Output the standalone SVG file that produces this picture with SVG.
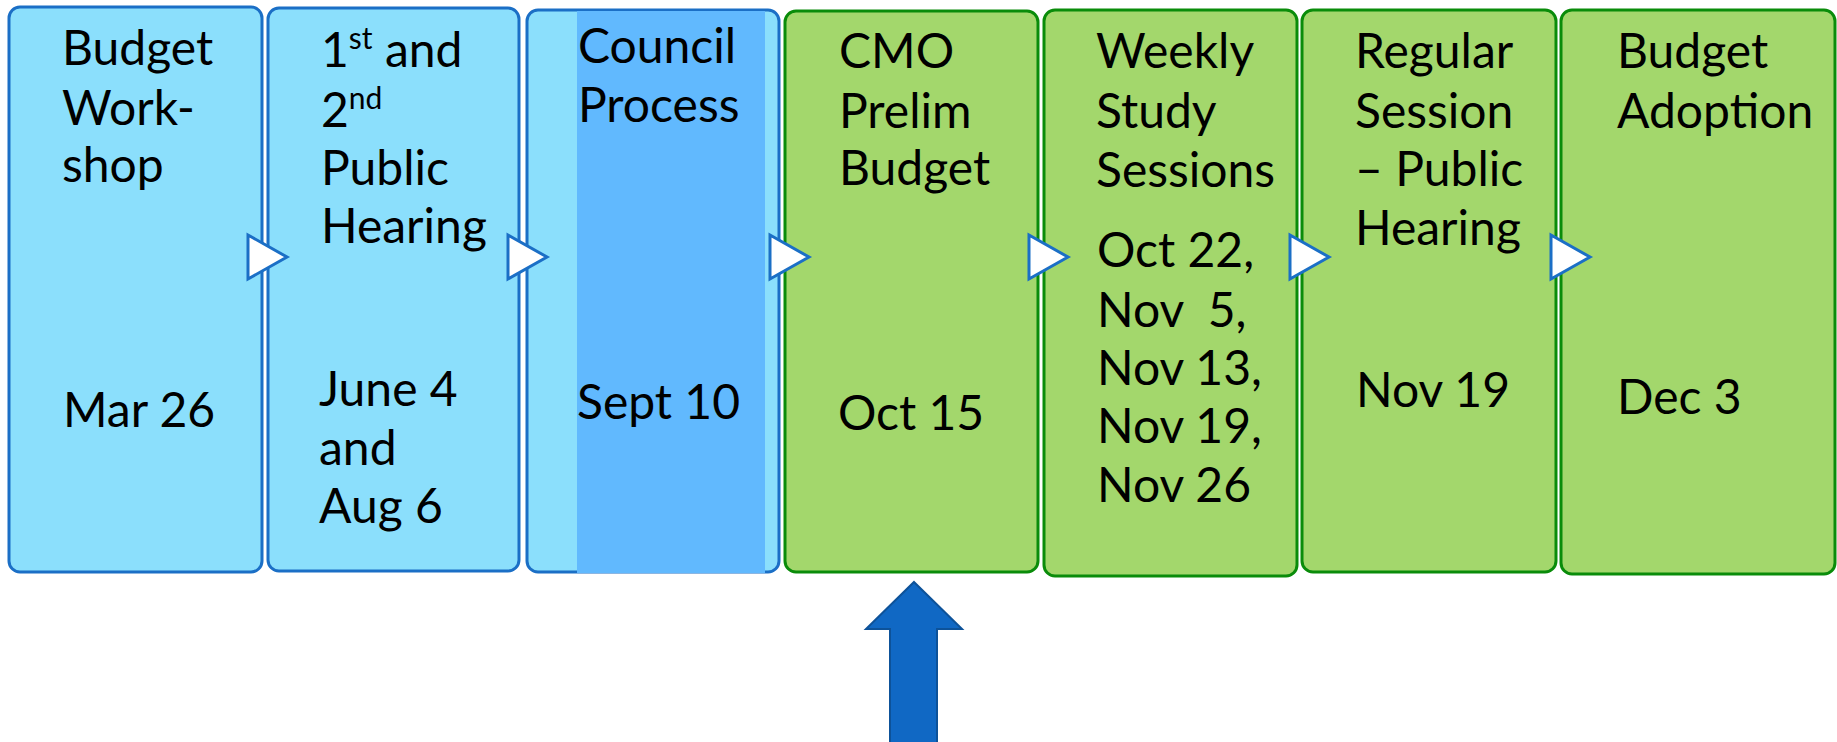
<svg xmlns="http://www.w3.org/2000/svg" width="1837" height="742" viewBox="0 0 1837 742">
<style>
.blue{fill:#8BDFFC;stroke:#1B6FC6;stroke-width:3}
.green{fill:#A3D76C;stroke:#0A8C0A;stroke-width:3}
.t{font-family:Lato,"Liberation Sans",sans-serif;font-size:48px;fill:#000}
.sup{font-size:30px}
.tri{fill:#FFFFFF;stroke:#1B6FC6;stroke-width:3;stroke-linejoin:miter}
</style>
<rect width="1837" height="742" fill="#FFFFFF"/>
<g id="n1">
<rect class="blue" x="9" y="7" width="253" height="565" rx="11"/>
<text class="t" x="62" y="65">Budget</text>
<text class="t" x="62" y="125">Work-</text>
<text class="t" x="62" y="182">shop</text>
<text class="t" x="63" y="427">Mar 26</text>
</g>
<g id="n2">
<rect class="blue" x="268" y="8" width="251" height="563" rx="11"/>
<text class="t" x="321" y="67">1<tspan class="sup" dy="-18">st</tspan><tspan dy="18"> and</tspan></text>
<text class="t" x="321" y="127">2<tspan class="sup" dy="-18">nd</tspan></text>
<text class="t" x="321" y="185">Public</text>
<text class="t" x="321" y="243">Hearing</text>
<text class="t" x="319" y="406">June 4</text>
<text class="t" x="319" y="465">and</text>
<text class="t" x="319" y="523">Aug 6</text>
</g>
<g id="n3">
<rect class="blue" x="527" y="10" width="252" height="562" rx="11"/>
<rect x="577" y="11" width="188" height="562" fill="#61B9FE"/>
<text class="t" x="578" y="63">Council</text>
<text class="t" x="578" y="122">Process</text>
<text class="t" x="577" y="419">Sept 10</text>
</g>
<g id="n4">
<rect class="green" x="785" y="11" width="253" height="561" rx="11"/>
<text class="t" x="839" y="68">CMO</text>
<text class="t" x="839" y="128">Prelim</text>
<text class="t" x="839" y="185">Budget</text>
<text class="t" x="838" y="430">Oct 15</text>
</g>
<g id="n5">
<rect class="green" x="1044" y="10" width="253" height="566" rx="11"/>
<text class="t" x="1096" y="68">Weekly</text>
<text class="t" x="1096" y="128">Study</text>
<text class="t" x="1096" y="187">Sessions</text>
<text class="t" x="1097" y="267">Oct 22,</text>
<text class="t" x="1097" y="327" xml:space="preserve">Nov  5,</text>
<text class="t" x="1097" y="385">Nov 13,</text>
<text class="t" x="1097" y="443">Nov 19,</text>
<text class="t" x="1097" y="502">Nov 26</text>
</g>
<g id="n6">
<rect class="green" x="1302" y="10" width="254" height="562" rx="11"/>
<text class="t" x="1355" y="68">Regular</text>
<text class="t" x="1355" y="128">Session</text>
<text class="t" x="1355" y="186">– Public</text>
<text class="t" x="1355" y="245">Hearing</text>
<text class="t" x="1356" y="407">Nov 19</text>
</g>
<g id="n7">
<rect class="green" x="1561" y="10" width="274" height="564" rx="11"/>
<text class="t" x="1617" y="68">Budget</text>
<text class="t" x="1617" y="128">Adoption</text>
<text class="t" x="1617" y="414">Dec 3</text>
</g>
<g id="connectors">
<polygon class="tri" points="248,235 287,257 248,279"/>
<polygon class="tri" points="508,235 547,257 508,279"/>
<polygon class="tri" points="770,235 809,257 770,279"/>
<polygon class="tri" points="1029,235 1068,257 1029,279"/>
<polygon class="tri" points="1290,235 1329,257 1290,279"/>
<polygon class="tri" points="1551,235 1590,257 1551,279"/>
</g>
<g id="up-arrow">
<path d="M914,582 L962,629 L937,629 L937,744 L890,744 L890,629 L866,629 Z" fill="#1068C4" stroke="#0D5299" stroke-width="2"/>
</g>
</svg>
